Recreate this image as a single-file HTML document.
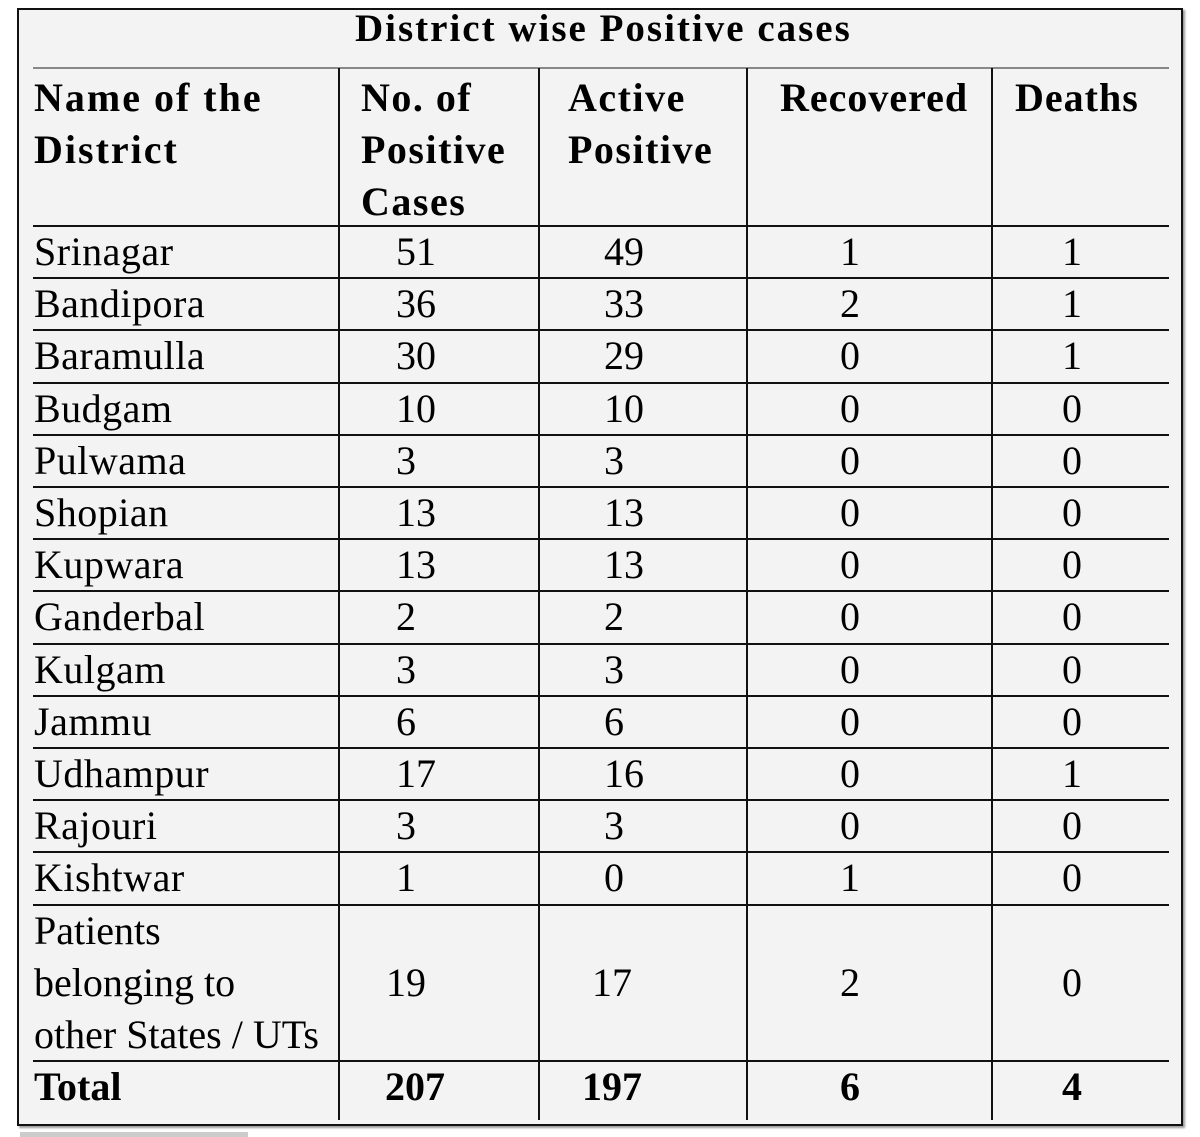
<!DOCTYPE html>
<html><head><meta charset="utf-8"><style>
body{margin:0;width:1200px;height:1137px;background:#fff;position:relative;overflow:hidden;font-family:"Liberation Serif",serif;color:#000}
#box{position:absolute;left:17px;top:8px;width:1162px;height:1114px;border:2px solid #111;background:#f3f3f3;box-shadow:2px 2px 2px #999}
.t{position:absolute;white-space:nowrap;line-height:52px;font-size:40px}
.b{font-weight:bold}
.hl{position:absolute;left:33px;width:1136px;height:2px;background:#111}
.vl{position:absolute;width:2px;background:#111}
</style></head><body>
<div id="box"></div>
<div class="t b" style="left:355px;top:3px;font-size:39px;letter-spacing:2px">District wise Positive cases</div>
<div class="hl" style="top:67px;background:#888"></div>
<div class="t b" style="left:34px;top:72px;letter-spacing:2px">Name of the<br>District</div>
<div class="t b" style="left:361px;top:72px;letter-spacing:1.5px">No. of<br>Positive<br>Cases</div>
<div class="t b" style="left:568px;top:72px;letter-spacing:1.5px">Active<br>Positive</div>
<div class="t b" style="left:780px;top:72px;letter-spacing:1px">Recovered</div>
<div class="t b" style="left:1015px;top:72px;letter-spacing:1px">Deaths</div>
<div id="g"></div>
<div style="position:absolute;left:20px;top:1132px;width:228px;height:5px;background:#ccc"></div>
<script>
const districts=["Srinagar","Bandipora","Baramulla","Budgam","Pulwama","Shopian","Kupwara","Ganderbal","Kulgam","Jammu","Udhampur","Rajouri","Kishtwar"];
const positive=[51,36,30,10,3,13,13,2,3,6,17,3,1];
const active=[49,33,29,10,3,13,13,2,3,6,16,3,0];
const recovered=[1,2,0,0,0,0,0,0,0,0,0,0,1];
const deaths=[1,1,1,0,0,0,0,0,0,0,1,0,0];
const other=[19,17,2,0];
const totals=[207,197,6,4];
const g=document.getElementById('g');
function txt(s,x,y,cls,fs){const d=document.createElement('div');d.className='t '+(cls||'');d.style.left=x+'px';d.style.top=y+'px';if(fs)d.style.fontSize=fs+'px';d.innerHTML=s;g.appendChild(d);return d;}
const rowH=52.2, y0=225;
const colX=[396,604,840,1062];
function line(y,name){const d=document.createElement('div');d.className='hl';d.style.top=Math.round(y)+'px';


g.appendChild(d);}
line(y0,'header-divider');
districts.forEach((n,i)=>{const y=y0+i*rowH;
const c=txt(n,34,y+1);
c.style.letterSpacing='0.5px';


[positive[i],active[i],recovered[i],deaths[i]].forEach((v,j)=>{const e=txt(String(v),colX[j],y+1);

});
line(y+rowH,'row-divider');});
const yo=y0+districts.length*rowH;
const oc=txt('Patients<br>belonging to<br>other States / UTs',34,yo+1);


const ox=[386,592,840,1062];
other.forEach((v,j)=>{const e=txt(String(v),ox[j],yo+53);

});
const yt=yo+3*rowH;
line(yt,'total-divider');
const tl=txt('Total',34,yt+1,'b');


const tx=[385,582,840,1062];
totals.forEach((v,j)=>{const e=txt(String(v),tx[j],yt+1,'b');

});
[338,538,746,991].forEach((x,i)=>{const d=document.createElement('div');d.className='vl';d.style.left=x+'px';d.style.top='68px';d.style.height=(1120-68)+'px';


g.appendChild(d);});
</script>
</body></html>
